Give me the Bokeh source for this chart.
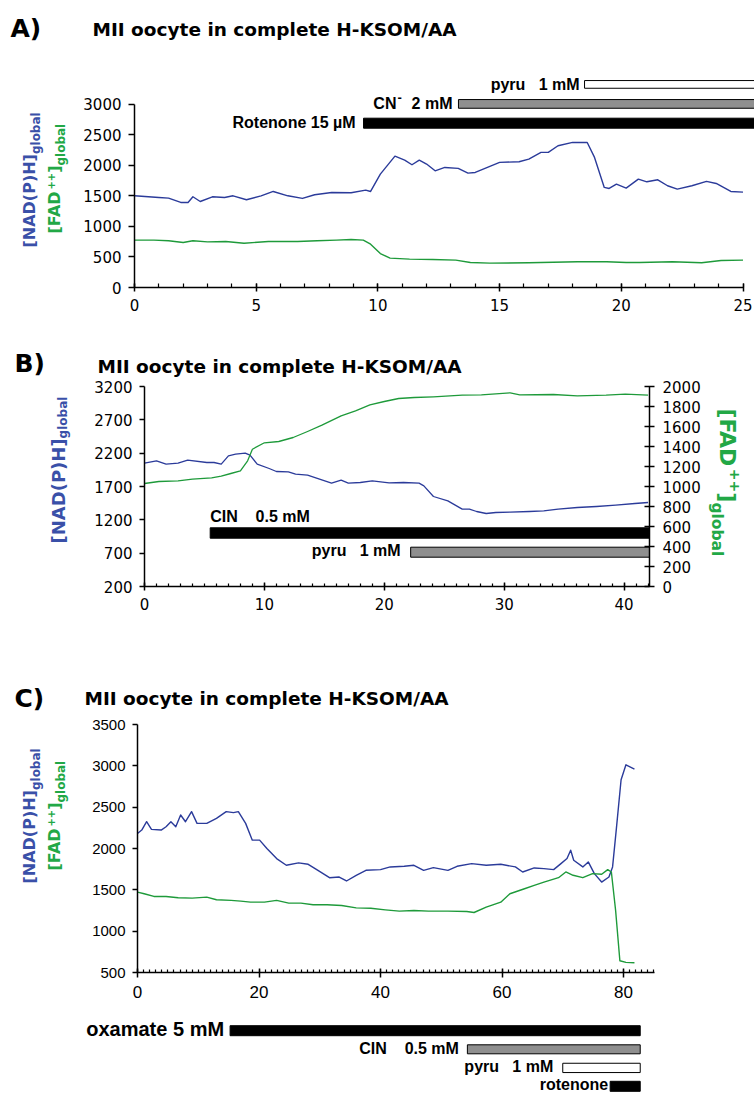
import math
from bokeh.plotting import figure
from bokeh.models import Range1d, LinearAxis, SingleIntervalTicker, FixedTicker, Label
from bokeh.layouts import column, row
from bokeh.embed import file_html
from bokeh.resources import INLINE

# ---------------- data (time in min) ----------------
title_text = "MII oocyte in complete H-KSOM/AA"

# Panel A
a_t_nadh = [0, 1.0, 1.4, 1.9, 2.2, 2.4, 2.7, 3.2, 3.7, 4.05, 4.6, 5.2, 5.7, 6.3, 6.9, 7.4, 8.1, 8.9, 9.5, 9.7,
            10.1, 10.7, 11.1, 11.4, 11.7, 12.0, 12.35, 12.75, 13.3, 13.7, 14.0, 15.0, 15.8, 16.2, 16.7, 17.0,
            17.4, 18.0, 18.6, 18.9, 19.3, 19.5, 19.8, 20.2, 20.7, 21.05, 21.5, 21.9, 22.3, 22.9, 23.5, 23.9,
            24.5, 25.0]
a_nadh = [1500, 1473, 1462, 1391, 1391, 1484, 1407, 1484, 1473, 1500, 1435, 1500, 1571, 1500, 1457, 1517,
          1555, 1549, 1593, 1571, 1855, 2149, 2084, 2008, 2084, 2019, 1909, 1964, 1948, 1871, 1882, 2046,
          2057, 2100, 2210, 2210, 2319, 2373, 2373, 2128, 1637, 1620, 1691, 1626, 1773, 1729, 1762, 1664,
          1609, 1664, 1735, 1702, 1571, 1560]
a_t_fad = [0, 0.8, 1.4, 2.0, 2.4, 3.0, 3.75, 4.5, 5.5, 6.7, 7.5, 8.3, 8.9, 9.4, 9.7, 10.1, 10.5, 11.3,
           12.25, 13.2, 13.8, 14.6, 16.2, 18.2, 19.4, 20.2, 20.75, 22.1, 23.3, 24.1, 25.0]
a_fad = [775, 775, 764, 736, 764, 747, 753, 725, 753, 753, 764, 775, 786, 775, 709, 556, 480, 464, 458,
         447, 409, 398, 404, 420, 420, 409, 409, 420, 404, 442, 447]
a_treat = ["pyru", "CN", "Rotenone"]
a_treat_start = [18.49, 13.31, 9.41]

# Panel B
b_t_nadh = [0, 1.0, 1.8, 2.8, 3.6, 5.2, 5.8, 6.4, 7.0, 7.6, 8.4, 8.8, 9.4, 10.4, 11.0, 12.0, 12.6, 13.6,
            14.6, 15.6, 16.4, 17.0, 18.0, 19.0, 20.4, 21.6, 22.9, 23.3, 24.1, 25.3, 26.5, 27.1, 27.7, 28.5,
            29.3, 30.5, 32.1, 33.3, 34.5, 36.1, 37.7, 39.3, 40.9, 42.0]
b_nadh = [2050, 2085, 2035, 2050, 2095, 2060, 2060, 2035, 2160, 2185, 2200, 2170, 2035, 1970, 1925, 1920,
          1885, 1870, 1810, 1750, 1795, 1750, 1760, 1785, 1755, 1760, 1750, 1710, 1550, 1485, 1360, 1360,
          1325, 1295, 1310, 1315, 1325, 1335, 1360, 1385, 1400, 1420, 1445, 1460]
b_t_fad = [0, 1.2, 2.8, 4.0, 5.6, 6.4, 7.2, 8.0, 8.6, 9.0, 10.0, 11.2, 12.4, 13.6, 14.8, 16.4, 17.6, 18.8,
           20.0, 21.2, 22.5, 24.1, 26.5, 28.1, 30.5, 31.3, 34.1, 36.1, 38.5, 40.1, 42.0]
b_fad = [1030, 1050, 1057, 1073, 1087, 1103, 1130, 1157, 1257, 1373, 1437, 1450, 1490, 1550, 1613, 1707,
         1757, 1817, 1850, 1880, 1890, 1897, 1913, 1917, 1937, 1917, 1920, 1907, 1913, 1923, 1913]
b_treat = ["CIN", "pyru"]
b_treat_start = [5.48, 22.2]

# Panel C
c_t_nadh = [0, 0.7, 1.5, 2.3, 3.9, 4.7, 5.5, 6.3, 7.1, 7.9, 8.9, 9.8, 11.4, 13.0, 14.6, 15.8, 16.6, 17.8,
            18.9, 20.1, 21.3, 22.9, 24.5, 26.5, 28.1, 29.7, 31.6, 33.2, 34.4, 36.0, 37.6, 40.0, 41.6, 43.9,
            45.5, 47.1, 48.7, 51.1, 52.6, 55.0, 57.4, 59.8, 62.2, 63.4, 65.3, 66.9, 68.5, 69.7, 70.7, 71.3,
            71.8, 73.3, 74.2, 75.2, 76.4, 77.6, 78.2, 78.8, 79.6, 80.4, 81.8]
c_nadh = [2182, 2223, 2324, 2231, 2223, 2263, 2324, 2263, 2405, 2324, 2446, 2304, 2304, 2365, 2446, 2434,
          2446, 2304, 2101, 2101, 2000, 1878, 1797, 1826, 1809, 1736, 1647, 1655, 1607, 1676, 1736, 1744,
          1777, 1785, 1797, 1736, 1769, 1736, 1785, 1817, 1797, 1809, 1777, 1716, 1765, 1757, 1744, 1817,
          1878, 1980, 1858, 1777, 1838, 1696, 1594, 1655, 1777, 2223, 2831, 3013, 2961]
c_t_fad = [0, 1.1, 2.7, 4.7, 6.7, 9.0, 11.4, 13.0, 15.4, 17.0, 18.6, 20.9, 22.9, 24.9, 26.9, 28.9, 31.2,
           33.6, 36.0, 38.4, 40.8, 43.1, 45.5, 47.9, 51.1, 54.2, 55.4, 57.4, 59.8, 61.3, 63.7, 65.3, 66.9,
           69.3, 70.5, 71.7, 73.3, 74.9, 76.4, 77.4, 78.0, 78.7, 79.4, 80.4, 81.8]
c_fad = [1473, 1453, 1420, 1420, 1404, 1400, 1412, 1380, 1372, 1363, 1351, 1351, 1372, 1339, 1339, 1319,
         1319, 1311, 1282, 1278, 1258, 1242, 1250, 1242, 1242, 1238, 1226, 1290, 1351, 1453, 1513, 1554,
         1594, 1647, 1716, 1676, 1647, 1696, 1688, 1744, 1716, 1250, 642, 622, 618]
c_treat = ["oxamate 5 mM", "CIN\u00a0\u00a0\u00a0 0.5 mM", "pyru\u00a0\u00a0 1 mM", "rotenone"]
c_treat_start = [15.24, 54.3, 70.0, 77.8]
c_treat_end = 82.75

# ---------------- styles ----------------
BLUE_LINE = "#2B3B9A"
BLUE_TXT = "#3A50A8"
GREEN_LINE = "#1E9A3A"
GREEN_TXT = "#22A846"
GRAY = "#8F8F8F"
PAGE_L, PAGE_R = 0, 754
MID = 0.347  # distance (em) from alphabetic baseline to the text box middle

# DejaVu Sans Bold advance widths (em)
DJW = {'[': .457, 'N': .837, 'A': .774, 'D': .830, '(': .457, 'P': .733, ')': .457, 'H': .837, ']': .457,
       'F': .683, '+': .838, 'g': .716, 'l': .343, 'o': .687, 'b': .716, 'a': .675}


def tw(s, size):
    return sum(DJW[c] for c in s) * size


class Fr:
    def __init__(s, left, right, top, bottom, x0, x1, y0, y1):
        s.left, s.right, s.top, s.bottom = left, right, top, bottom
        s.x0, s.x1, s.y0, s.y1 = x0, x1, y0, y1

    def X(s, px):
        return s.x0 + (px - s.left) * (s.x1 - s.x0) / (s.right - s.left)

    def Y(s, py):
        return s.y0 + (s.bottom - py) * (s.y1 - s.y0) / (s.bottom - s.top)

    def H(s, hpx):
        return hpx * (s.y1 - s.y0) / (s.bottom - s.top)


def base_fig(fr, box, axes=True):
    L, R, T, B = box
    kw = {} if axes else dict(x_axis_type=None, y_axis_type=None)
    p = figure(width=R - L, height=B - T,
               x_range=Range1d(fr.x0, fr.x1), y_range=Range1d(fr.y0, fr.y1),
               output_backend="svg", toolbar_location=None,
               min_border_left=fr.left - L, min_border_right=R - fr.right,
               min_border_top=fr.top - T, min_border_bottom=B - fr.bottom, **kw)
    p.frame_align = False
    p.grid.visible = False
    p.outline_line_color = None
    p.background_fill_color = "white"
    p.border_fill_color = "white"
    return p


def text_fig(box):
    """A figure whose frame is the whole box; data coords = page px (y negated)."""
    L, R, T, B = box
    fr = Fr(L, R, T, B, L, R, -B, -T)
    return base_fig(fr, box, axes=False), fr


def style_axis(ax, font, size, t_in, t_out, m_in=0, m_out=0, standoff=6):
    ax.axis_line_width = 1.5
    ax.axis_line_color = "black"
    ax.major_tick_line_width = 1.5
    ax.major_tick_line_color = "black"
    ax.major_tick_in = t_in
    ax.major_tick_out = t_out
    if m_in == 0 and m_out == 0:
        ax.minor_tick_line_color = None
    else:
        ax.minor_tick_line_width = 1.2
        ax.minor_tick_line_color = "black"
        ax.minor_tick_in = m_in
        ax.minor_tick_out = m_out
    ax.major_label_text_font = font
    ax.major_label_text_font_size = f"{size}px"
    ax.major_label_text_color = "black"
    ax.major_label_standoff = standoff


def lab(p, fr, px, py, text, size, font="Liberation Sans", bold=True, color="black", align="left",
        x_off=0, angle=0.0, x_data=None):
    """Place text whose alphabetic baseline starts at page (px, py)."""
    ux, uy = -math.sin(angle), -math.cos(angle)
    ax_ = px + MID * size * ux
    ay_ = py + MID * size * uy
    x = x_data if x_data is not None else fr.X(ax_)
    p.add_layout(Label(x=x, y=fr.Y(ay_), text=text, text_font=font, text_font_size=f"{size}px",
                       text_font_style="bold" if bold else "normal", text_color=color,
                       text_align=align, text_baseline="middle", x_offset=x_off,
                       angle=angle))


def rot_label(p, fr, parts, x_base, y_start, sign, color):
    y = y_start
    for text, size, dx in parts:
        lab(p, fr, x_base + dx, y, text, size, font="DejaVu Sans", color=color,
            angle=sign * math.pi / 2)
        y = y - sign * tw(text, size)


def title_fig(box, letter, letter_xy, title_xy):
    p, fr = text_fig(box)
    lab(p, fr, letter_xy[0], letter_xy[1], letter, 25, font="DejaVu Sans")
    lab(p, fr, title_xy[0], title_xy[1], title_text, 18.5, font="DejaVu Sans")
    return p


# ================= Panel A =================
tA = title_fig((0, 754, 0, 60), "A)", (10, 37), (92, 35))

fA = Fr(134, 754, 76, 287, 0, 620 / 24.34, 0, 3451.5)
pA = base_fig(fA, (80, 754, 60, 318))
pA.line(a_t_nadh, a_nadh, line_color=BLUE_LINE, line_width=1.4, line_join="round")
pA.line(a_t_fad, a_fad, line_color=GREEN_LINE, line_width=1.4, line_join="round")
style_axis(pA.xaxis[0], "DejaVu Sans", 15, 4, 4, 4, 0, 7)
pA.xaxis.ticker = SingleIntervalTicker(interval=5, num_minor_ticks=5)
pA.xaxis.bounds = (0, 25)
style_axis(pA.yaxis[0], "DejaVu Sans", 15, 0, 6, 0, 0, 7)
pA.yaxis.ticker = SingleIntervalTicker(interval=500, num_minor_ticks=0)
pA.yaxis.bounds = (0, 3000)

A_ROW_PX = [83.9, 103.4, 122.7]
A_ROW_H = [7.7, 8.7, 10.0]
pA.hbar(y=[fA.Y(v) for v in A_ROW_PX], left=a_treat_start, right=[fA.x1] * 3,
        height=[fA.H(h) for h in A_ROW_H], fill_color=["white", GRAY, "black"],
        line_color="black", line_width=1)
lab(pA, fA, 0, 89.3, "pyru\u00a0\u00a0 1 mM", 16, align="right", x_off=-5, x_data=a_treat_start[0])
lab(pA, fA, 0, 108.3, "CN", 16, align="right", x_off=-62, x_data=a_treat_start[1])
lab(pA, fA, 0, 101.5, "-", 13, align="left", x_off=-61, x_data=a_treat_start[1])
lab(pA, fA, 0, 108.3, "2 mM", 16, align="right", x_off=-6, x_data=a_treat_start[1])
lab(pA, fA, 0, 128.0, "Rotenone 15 \u00b5M", 16, align="right", x_off=-8, x_data=a_treat_start[2])

lA, flA = text_fig((0, 80, 60, 318))
rot_label(lA, flA, [("[NAD(P)H]", 16, 0), ("global", 12, 4.5)], 35, 247, 1, BLUE_TXT)
rot_label(lA, flA, [("[FAD", 16, 0), ("++", 10, -6), ("]", 16, 0), ("global", 12, 4.5)], 60, 233, 1, GREEN_TXT)

# ================= Panel B =================
tB = title_fig((0, 754, 318, 379), "B)", (14, 372), (97, 372))

fB = Fr(144, 649, 386, 586, 0, 42.12, 200, 3200)
pB = base_fig(fB, (80, 704, 379, 626))
pB.extra_y_ranges = {"fad": Range1d(0, 2000)}
pB.line(b_t_nadh, b_nadh, line_color=BLUE_LINE, line_width=1.3, line_join="round")
pB.line(b_t_fad, b_fad, line_color=GREEN_LINE, line_width=1.3, line_join="round", y_range_name="fad")
style_axis(pB.xaxis[0], "DejaVu Sans", 15, 4, 4, 3, 0, 7)
pB.xaxis.ticker = SingleIntervalTicker(interval=10, num_minor_ticks=10)
style_axis(pB.yaxis[0], "DejaVu Sans", 15, 0, 5, 0, 0, 7)
pB.yaxis.ticker = FixedTicker(ticks=[200, 700, 1200, 1700, 2200, 2700, 3200])
rax = LinearAxis(y_range_name="fad")
style_axis(rax, "DejaVu Sans", 15, 5, 5, 0, 0, 8)
rax.ticker = SingleIntervalTicker(interval=200, num_minor_ticks=0)
pB.add_layout(rax, "right")

B_ROW_PX = [532.5, 551.7]
B_ROW_H = [10.4, 10.0]
pB.hbar(y=[fB.Y(v) for v in B_ROW_PX], left=b_treat_start, right=[fB.x1] * 2,
        height=[fB.H(h) for h in B_ROW_H], fill_color=["black", GRAY], line_color="black", line_width=1)
lab(pB, fB, 0, 521.7, "CIN\u00a0\u00a0\u00a0 0.5 mM", 16, align="left", x_off=0, x_data=b_treat_start[0])
lab(pB, fB, 0, 555.5, "pyru\u00a0\u00a0 1 mM", 16, align="right", x_off=-10, x_data=b_treat_start[1])

lB, flB = text_fig((0, 80, 379, 626))
rot_label(lB, flB, [("[NAD(P)H]", 18, 0), ("global", 12, 3)], 64, 543, 1, BLUE_TXT)
rB, frB = text_fig((704, 754, 379, 626))
rot_label(rB, frB, [("[FAD", 22, 0), ("++", 14, 10.5), ("]", 22, 0), ("global", 15.5, -8)], 719, 408, -1, GREEN_TXT)

# ================= Panel C =================
tC = title_fig((0, 754, 626, 716), "C)", (14, 707), (84, 704))

fC = Fr(137, 654, 724, 972, 0, 85.1, 500, 3500)
pC = base_fig(fC, (80, 754, 716, 1010))
pC.line(c_t_nadh, c_nadh, line_color=BLUE_LINE, line_width=1.4, line_join="round")
pC.line(c_t_fad, c_fad, line_color=GREEN_LINE, line_width=1.4, line_join="round")
style_axis(pC.xaxis[0], "Liberation Sans", 17, 4, 5, 3, 0, 8)
pC.xaxis.ticker = SingleIntervalTicker(interval=20, num_minor_ticks=20)
style_axis(pC.yaxis[0], "Liberation Sans", 15, 0, 5, 0, 0, 7)
pC.yaxis.ticker = SingleIntervalTicker(interval=500, num_minor_ticks=0)

lC, flC = text_fig((0, 80, 716, 1010))
rot_label(lC, flC, [("[NAD(P)H]", 16, 0), ("global", 12, 4.5)], 35, 883, 1, BLUE_TXT)
rot_label(lC, flC, [("[FAD", 16, 0), ("++", 10, -6), ("]", 16, 0), ("global", 12, 4.5)], 60, 870, 1, GREEN_TXT)

# ================= Panel C treatment bars =================
ppx_c = (fC.right - fC.left) / (fC.x1 - fC.x0)
fD = Fr(PAGE_L, PAGE_R, 1010, 1094, (PAGE_L - fC.left) / ppx_c, (PAGE_R - fC.left) / ppx_c, 0, 84)
pD = base_fig(fD, (PAGE_L, PAGE_R, 1010, 1094), axes=False)
D_ROW_PX = [1030.2, 1048.8, 1067.4, 1085.8]
D_ROW_H = [10.0, 9.0, 9.3, 10.0]
pD.hbar(y=[fD.Y(v) for v in D_ROW_PX], left=c_treat_start, right=[c_treat_end] * 4,
        height=[fD.H(h) for h in D_ROW_H], fill_color=["black", GRAY, "white", "black"],
        line_color="black", line_width=1)
d_sizes = [20, 16, 16, 16]
d_gaps = [-6, -8.5, -9.5, -2]
d_base = [1035.5, 1053.4, 1072.0, 1090.0]
for i in range(4):
    lab(pD, fD, 0, d_base[i], c_treat[i], d_sizes[i], align="right", x_off=d_gaps[i], x_data=c_treat_start[i])

layout = column(
    tA, row(lA, pA, spacing=0),
    tB, row(lB, pB, rB, spacing=0),
    tC, row(lC, pC, spacing=0),
    pD, spacing=0)
open("out.html", "w").write(file_html(layout, INLINE))
